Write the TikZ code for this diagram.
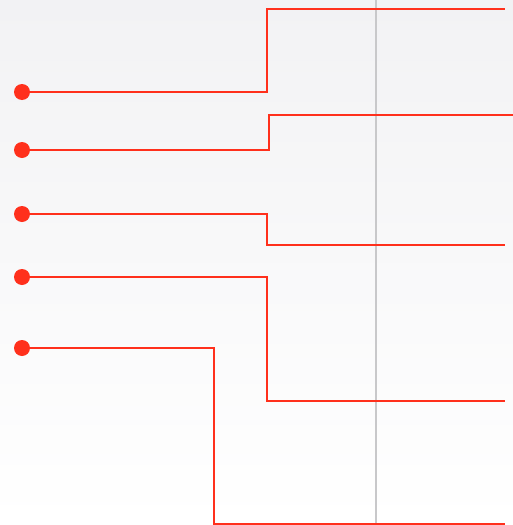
\documentclass[tikz,border=0pt]{standalone}
\usepackage{tikz}
\usepackage{xcolor}
\usetikzlibrary{positioning}

\definecolor{accent}{RGB}{255,48,28}
\definecolor{guide}{RGB}{200,200,202}
\definecolor{paper}{RGB}{242,242,244}

\begin{document}
\begin{tikzpicture}[
  x=1pt, y=-1pt,
  dot/.style={circle, fill=accent, inner sep=0pt, minimum size=16pt},
  link/.style={draw=accent, line width=1.5pt},
]
  % background and bounding box
  \shade[top color=paper, bottom color=white] (0,0) rectangle (513,525);
  \useasboundingbox (0,0) rectangle (513,525);

  % vertical guide line
  \coordinate (gtop) at (376,0);
  \coordinate (gbot) at (376,525);
  \draw[guide, line width=1.5pt] (gtop) -- (gbot);

  % bullets on the left
  \node[dot] (d1) at (22,92) {};
  \node[dot] (d2) at (22,150) {};
  \node[dot] (d3) at (22,214) {};
  \node[dot] (d4) at (22,277) {};
  \node[dot] (d5) at (22,348) {};

  % corners and free ends
  \coordinate (k1) at (267,9);   \coordinate (e1) at (505,9);
  \coordinate (k2) at (269,115); \coordinate (e2) at (513,115);
  \coordinate (k3) at (267,245); \coordinate (e3) at (505,245);
  \coordinate (k4) at (267,401); \coordinate (e4) at (505,401);
  \coordinate (k5) at (214,524); \coordinate (e5) at (505,524);

  % leader lines
  \draw[link] (d1) -| (k1) -- (e1);
  \draw[link] (d2) -| (k2) -- (e2);
  \draw[link] (d3) -| (k3) -- (e3);
  \draw[link] (d4) -| (k4) -- (e4);
  \draw[link] (d5) -| (k5) -- (e5);
\end{tikzpicture}
\end{document}
